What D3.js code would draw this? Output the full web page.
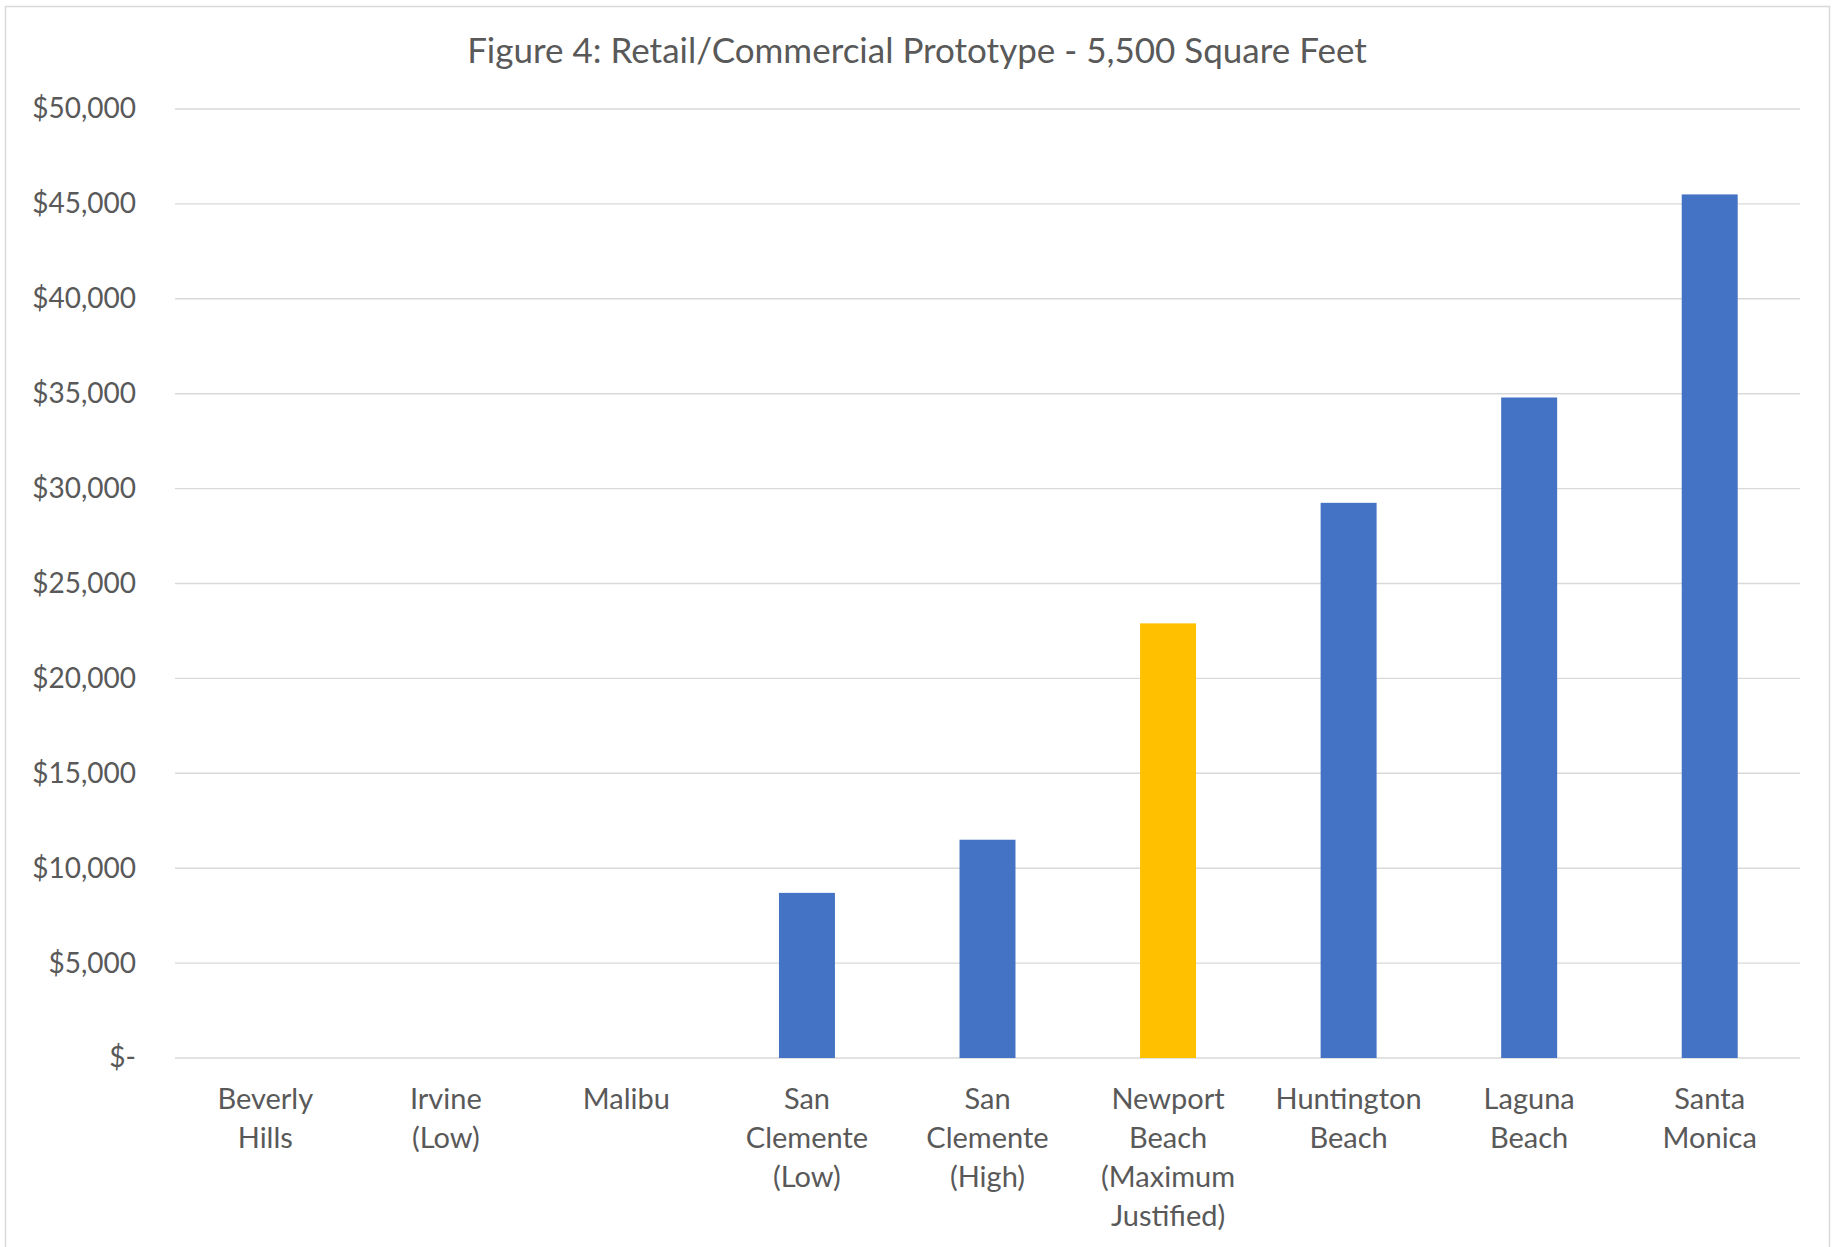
<!DOCTYPE html>
<html>
<head>
<meta charset="utf-8">
<script src="https://cdn.jsdelivr.net/npm/d3@7"></script>
<style>
  body { margin: 0; background: #ffffff; }
  text { font-family: Lato, "Open Sans", sans-serif; fill: #595959; }
</style>
</head>
<body>
<div class="chart"></div>
<script>
//Data
var title = "Figure 4: Retail/Commercial Prototype - 5,500 Square Feet";
var categories = ["Beverly Hills", "Irvine (Low)", "Malibu", "San Clemente (Low)", "San Clemente (High)",
    "Newport Beach (Maximum Justified)", "Huntington Beach", "Laguna Beach", "Santa Monica"];
var categoryLines = [["Beverly", "Hills"], ["Irvine", "(Low)"], ["Malibu"], ["San", "Clemente", "(Low)"],
    ["San", "Clemente", "(High)"], ["Newport", "Beach", "(Maximum", "Justified)"],
    ["Huntington", "Beach"], ["Laguna", "Beach"], ["Santa", "Monica"]];
var values = [0, 0, 0, 8700, 11500, 22900, 29250, 34800, 45500];
var highlight = "Newport Beach (Maximum Justified)";
var yTicks = [0, 5000, 10000, 15000, 20000, 25000, 30000, 35000, 40000, 45000, 50000];

var width = 1832, height = 1247;
var margin = {left: 175, right: 32, top: 109, bottom: 189};

var svg = d3.select(".chart").append("svg")
    .attr("width", width)
    .attr("height", height);

//Frame
svg.append("rect")
    .attr("x", 5.5).attr("y", 6.5)
    .attr("width", 1824).attr("height", 1260)
    .attr("fill", "#ffffff")
    .attr("stroke", "#d9d9d9")
    .attr("stroke-width", 1.5);

var x = d3.scaleBand()
    .domain(categories)
    .range([margin.left, width - margin.right])
    .paddingInner(0.69)
    .paddingOuter(0.345);

var y = d3.scaleLinear()
    .domain([0, 50000])
    .range([height - margin.bottom, margin.top]);

//Gridlines
svg.append("g")
    .selectAll("line")
    .data(yTicks)
    .join("line")
    .attr("x1", margin.left)
    .attr("x2", width - margin.right)
    .attr("y1", d => y(d))
    .attr("y2", d => y(d))
    .attr("stroke", "#d9d9d9")
    .attr("stroke-width", 1.4);

//Y axis
var yAxis = svg.append("g")
    .attr("transform", "translate(" + margin.left + ",0)")
    .call(d3.axisLeft(y)
        .tickValues(yTicks)
        .tickSize(0)
        .tickPadding(39)
        .tickFormat(d => d === 0 ? "$-" : "$" + d3.format(",")(d)));
yAxis.select(".domain").remove();
yAxis.selectAll("text")
    .style("font-size", "28px")
    .style("font-family", "Lato, sans-serif")
    .attr("fill", "#595959");

//Bars
svg.append("g")
    .selectAll("rect")
    .data(values)
    .join("rect")
    .attr("x", (d, i) => x(categories[i]))
    .attr("width", x.bandwidth())
    .attr("y", d => y(d))
    .attr("height", d => y(0) - y(d))
    .attr("fill", (d, i) => categories[i] === highlight ? "#ffc000" : "#4472c4");

//X labels
var xLabels = svg.append("g")
    .selectAll("text")
    .data(categories)
    .join("text")
    .attr("x", d => x(d) + x.bandwidth() / 2)
    .attr("y", 1109)
    .attr("text-anchor", "middle")
    .style("font-size", "29px");
xLabels.selectAll("tspan")
    .data((d, i) => categoryLines[i])
    .join("tspan")
    .attr("x", function () { return this.parentNode.getAttribute("x"); })
    .attr("dy", (d, i) => i === 0 ? 0 : 39)
    .text(d => d);

//Title
svg.append("text")
    .attr("x", 917)
    .attr("y", 63)
    .attr("text-anchor", "middle")
    .style("font-size", "35px")
    .text(title);
</script>
</body>
</html>
